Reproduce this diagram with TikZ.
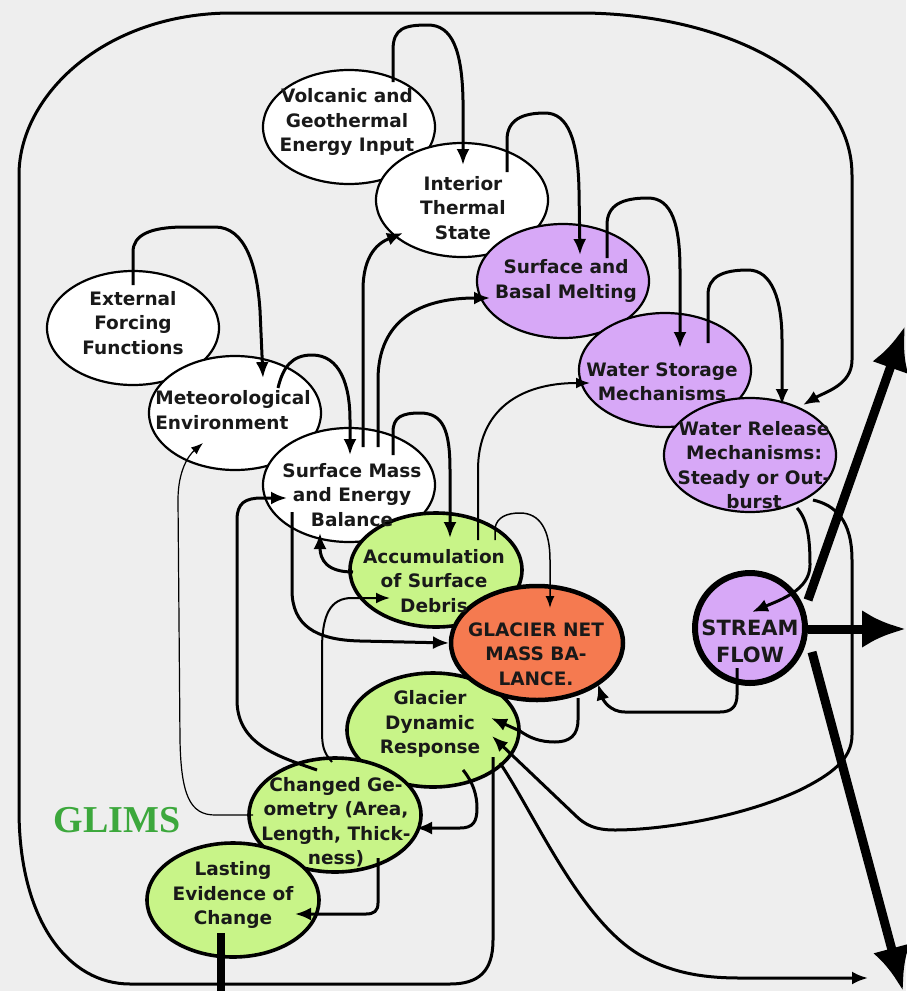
\documentclass[tikz,border=0pt]{standalone}
\usepackage{fontspec}
\newfontfamily\nf{DejaVu Sans}
\newfontfamily\gf{Liberation Serif}
\usetikzlibrary{shapes.geometric,arrows.meta,calc}
\definecolor{bg}{RGB}{238,238,238}
\definecolor{purp}{RGB}{215,168,247}
\definecolor{grn}{RGB}{200,244,136}
\definecolor{orng}{RGB}{245,122,80}
\definecolor{glims}{RGB}{60,168,60}
\begin{document}
\begin{tikzpicture}[x=1pt,y=-1pt,line join=round,
  ell/.style={ellipse,minimum width=172pt,minimum height=114pt,inner sep=0pt,draw=black},
  wht/.style={ell,fill=white,line width=2.2pt},
  prp/.style={ell,fill=purp,line width=2.2pt},
  gr/.style={ell,fill=grn,line width=3.6pt},
  og/.style={ell,fill=orng,line width=4.5pt},
  txt/.style={font=\nf\bfseries\fontsize{18.5}{24.5}\selectfont,align=center,inner sep=0pt,text=black!90},
  conn/.style={line width=3pt,-{Latex[length=16pt,width=13pt]}},
  medc/.style={line width=2pt,-{Latex[length=14pt,width=11pt]}},
  thinc/.style={line width=1.5pt,-{Latex[length=12pt,width=9pt]}},
  thinnest/.style={line width=1.2pt,-{Latex[length=12pt,width=9pt]}},
  big/.style={line width=9pt,-{Latex[length=44pt,width=38pt]}}]
\fill[bg] (0,0) rectangle (906,991);
\useasboundingbox (0,0) rectangle (906,991);

% ellipses
\node[wht] (eff) at (133,328) {};
\node[wht] (met) at (235,413) {};
\node[wht] (vol) at (349,127) {};
\node[wht] (its) at (462,200) {};
\node[prp] (sbm) at (563,281) {};
\node[prp] (wsm) at (665,370) {};
\node[prp] (wrm) at (750,455) {};
\node[wht] (sme) at (349,485) {};
\node[gr] (asd) at (436,570) {};
\node[gr] (gdr) at (433,730) {};
\node[og] (gnmb) at (537,643) {};
\node[gr] (cg) at (335,815) {};
\node[gr] (lec) at (233,900) {};
\node[circle,minimum size=110pt,inner sep=0pt,draw=black,fill=purp,line width=6pt] (sf) at (750,628) {};

% connectors
\draw[conn] ($(vol.center)+(44,-45)$) -- (393,50) .. controls (393,28) and (405,25) .. (428,25) .. controls (452,25) and (462,50) .. (463,100) -- ($(its.center)+(1,-35)$);
\draw[conn] ($(its.center)+(45,-28)$) -- (507,140) .. controls (507,120) and (522,113) .. (545,113) .. controls (568,113) and (578,140) .. (579,190) -- ($(sbm.center)+(17,-26)$);
\draw[conn] ($(sbm.center)+(44,-23)$) -- (607,225) .. controls (607,205) and (622,198) .. (648,198) .. controls (672,198) and (680,225) .. (680,270) -- ($(wsm.center)+(15,-22)$);
\draw[conn] ($(wsm.center)+(43,-27)$) -- (708,295) .. controls (708,277) and (722,270) .. (748,270) .. controls (772,270) and (782,300) .. (782,340) -- ($(wrm.center)+(32,-50)$);
% outer loop
\draw[conn] ($(gdr.center)+(60,27)$) -- (493,940) .. controls (493,972) and (478,984) .. (450,984) -- (130,984) .. controls (68,984) and (19,920) .. (19,810) -- (19,175) .. controls (19,95) and (105,13) .. (232,13) -- (585,13) .. controls (730,15) and (852,80) .. (852,175) -- (852,360) .. controls (852,385) and (825,392) .. ($(wrm.center)+(53,-50)$);
\draw[conn] ($(eff.center)+(0,-43)$) -- (133,252) .. controls (133,235) and (150,227) .. (185,227) -- (215,227) .. controls (245,227) and (257,265) .. (260,310) -- ($(met.center)+(28,-35)$);
\draw[conn] ($(met.center)+(43,-25)$) .. controls (283,367) and (292,355) .. (312,355) .. controls (340,355) and (350,385) .. (350,420) -- ($(sme.center)+(1,-30)$);
\draw[conn] ($(sme.center)+(14,-38)$) -- (363,290) .. controls (363,255) and (378,243) .. ($(its.center)+(-59,33)$);
\draw[conn] ($(sme.center)+(29,-38)$) -- (378,380) .. controls (378,320) and (420,298) .. ($(sbm.center)+(-73,17)$);
\draw[conn] ($(sme.center)+(44,-30)$) -- (393,432) .. controls (393,417) and (402,413) .. (420,413) .. controls (443,413) and (450,430) .. (450,470) -- ($(asd.center)+(14,-32)$);
\draw[thinc] ($(asd.center)+(59,-30)$) -- (495,528) .. controls (497,517) and (507,513) .. (520,513) .. controls (540,513) and (550,530) .. (550,560) -- ($(gnmb.center)+(13,-35)$);
\draw[medc] ($(asd.center)+(42,-30)$) -- (478,470) .. controls (478,410) and (520,383) .. ($(wsm.center)+(-75,13)$);
\draw[conn] ($(sme.center)+(-57,27)$) -- (292,590) .. controls (292,625) and (315,640) .. (360,641) -- ($(gnmb.center)+(-88,0)$);
\draw[conn] ($(asd.center)+(-83,2)$) .. controls (327,572) and (320,560) .. ($(sme.center)+(-29,48)$);
\draw[conn] ($(cg.center)+(-18,-45)$) .. controls (280,757) and (237,745) .. (237,700) -- (237,520) .. controls (237,503) and (245,498) .. (262,498) -- ($(sme.center)+(-62,13)$);
\draw[thinnest] ($(cg.center)+(-82,0)$) -- (215,815) .. controls (190,815) and (181,795) .. (180,740) -- (178,500) .. controls (178,470) and (189,455) .. ($(met.center)+(-32,30)$);
\draw[medc] ($(cg.center)+(-3,-53)$) .. controls (323,752) and (322,745) .. (322,730) -- (322,650) .. controls (322,615) and (330,598) .. (352,598) -- ($(asd.center)+(-46,28)$);
\draw[conn] ($(gdr.center)+(30,40)$) .. controls (473,782) and (477,795) .. (477,808) .. controls (477,822) and (473,828) .. (460,828) -- ($(cg.center)+(81,13)$);
\draw[conn] ($(cg.center)+(43,43)$) -- (378,903) .. controls (378,911) and (374,914) .. (366,914) -- ($(lec.center)+(62,14)$);
\coordinate (lecOut) at (221,992);
\draw[line width=8pt] ($(lec.center)+(-12,33)$) -- (lecOut);
\draw[conn] ($(wrm.center)+(63,45)$) .. controls (835,505) and (852,520) .. (852,560) -- (852,735) .. controls (852,760) and (830,775) .. (800,790) .. controls (740,818) and (660,830) .. (615,830) .. controls (595,830) and (585,825) .. (575,815) -- ($(gdr.center)+(59,6)$);
\draw[conn] ($(gnmb.center)+(41,55)$) -- (578,720) .. controls (578,735) and (570,742) .. (555,742) .. controls (540,742) and (530,738) .. (520,731) -- ($(gdr.center)+(58,-12)$);
\coordinate (brOut) at (868,978);
\draw[conn] ($(gdr.center)+(67,33)$) .. controls (535,815) and (580,920) .. (640,955) .. controls (670,972) and (700,978) .. (740,978) -- (brOut);
\draw[conn] ($(wrm.center)+(47,53)$) .. controls (808,520) and (810,540) .. (810,565) .. controls (810,590) and (780,600) .. ($(sf.center)+(2,-16)$);
\draw[conn] ($(sf.center)+(-13,40)$) -- (737,695) .. controls (737,707) and (731,712) .. (720,712) -- (625,712) .. controls (610,712) and (603,700) .. ($(gnmb.center)+(61,41)$);
\coordinate (o1) at (905,326);
\coordinate (o2) at (906,629);
\coordinate (o3) at (903,991);
\draw[big] ($(sf.center)+(58,-28)$) -- (o1);
\draw[big] ($(sf.center)+(58,1)$) -- (o2);
\draw[big] ($(sf.center)+(62,24)$) -- (o3);

% texts
\node[txt] (effT) at (133,323) {External\\Forcing\\Functions};
\node[txt,align=left] (metT) at (233,410) {Meteorological\\Environment};
\node[txt] (volT) at (347,122) {Volcanic and\\Geothermal\\Energy Input};
\node[txt] (itsT) at (463,208) {Interior\\Thermal\\State};
\node[txt] (sbmT) at (566,281) {Surface and\\Basal Melting};
\node[txt] (wsmT) at (662,382) {Water Storage\\Mechanisms};
\node[txt] (wrmT) at (754,465) {Water Release\\Mechanisms:\\Steady or Out-\\burst};
\node[txt] (smeT) at (352,495) {Surface Mass\\and Energy\\Balance};
\node[txt] (asdT) at (434,581) {Accumulation\\of Surface\\Debris};
\node[txt] (gnmbT) at (536,654) {GLACIER NET\\MASS BA-\\LANCE.};
\node[txt,font=\nf\bfseries\fontsize{21}{27}\selectfont] (sfT) at (750,641) {STREAM\\FLOW};
\node[txt] (gdrT) at (430,724) {Glacier\\Dynamic\\Response};
\node[txt] (cgT) at (336,822) {Changed Ge-\\ometry (Area,\\Length, Thick-\\ness)};
\node[txt] (lecT) at (233,895) {Lasting\\Evidence of\\Change};
\node[font=\gf\bfseries\fontsize{38}{40}\selectfont,text=glims,inner sep=0pt] (glims) at (117,820) {GLIMS};
\end{tikzpicture}
\end{document}
